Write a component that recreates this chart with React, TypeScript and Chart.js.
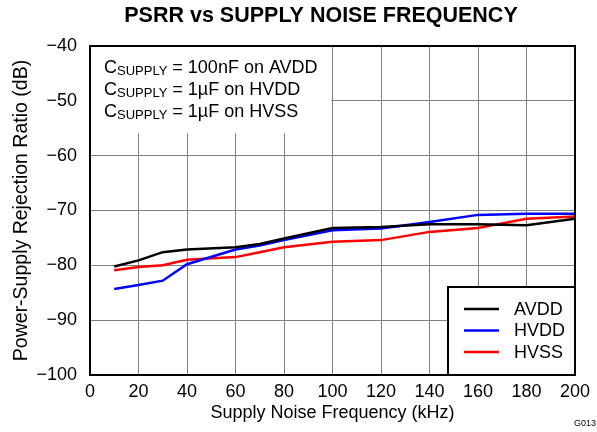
import React, { useEffect, useRef } from "react";
import { Chart, registerables } from "chart.js";

Chart.register(...registerables);

const freqKHz = [10, 20, 30, 40, 60, 70, 80, 100, 120, 140, 160, 180, 200];
const avdd = [-80.2, -79.1, -77.6, -77.1, -76.7, -76.1, -75.1, -73.2, -73.0, -72.5, -72.5, -72.7, -71.5];
const hvdd = [-84.3, -83.6, -82.8, -79.8, -77.1, -76.4, -75.4, -73.6, -73.3, -72.1, -70.8, -70.6, -70.6];
const hvss = [-80.9, -80.3, -80.0, -79.0, -78.5, -77.6, -76.7, -75.7, -75.4, -73.9, -73.2, -71.5, -71.1];
const seriesNames = ["AVDD", "HVDD", "HVSS"];
const seriesColors = ["#000000", "#0000FF", "#FF0000"];
const xTicks = [0, 20, 40, 60, 80, 100, 120, 140, 160, 180, 200];
const yTicks = [-100, -90, -80, -70, -60, -50, -40];
const titleText = "PSRR vs SUPPLY NOISE FREQUENCY";
const noteLines = [
  ["C", "SUPPLY", " = 100nF on AVDD"],
  ["C", "SUPPLY", " = 1µF on HVDD"],
  ["C", "SUPPLY", " = 1µF on HVSS"],
];

const FONT = "'Liberation Sans', Arial, Helvetica, sans-serif";

const overlayPlugin = {
  id: "overlay",
  beforeDatasetsDraw(chart: any) {
    const { ctx, chartArea } = chart;
    const xs = chart.scales.x;
    const ys = chart.scales.y;
    ctx.save();
    // title
    ctx.fillStyle = "#000000";
    ctx.font = `bold 21.5px ${FONT}`;
    ctx.textAlign = "center";
    ctx.textBaseline = "middle";
    ctx.fillText(titleText, 321, 16);
    ctx.textAlign = "left";
    // white note box over grid
    ctx.fillStyle = "#ffffff";
    const bx = chartArea.left;
    const by = chartArea.top;
    const bw = xs.getPixelForValue(100) - 1 - bx;
    const bh = ys.getPixelForValue(-55.9) - by;
    ctx.fillRect(bx, by, bw, bh);
    ctx.fillStyle = "#000000";
    noteLines.forEach((parts, i) => {
      const cy = by + 22 + i * 22;
      let x = bx + 14;
      ctx.font = `18px ${FONT}`;
      ctx.fillText(parts[0], x, cy);
      x += ctx.measureText(parts[0]).width;
      ctx.font = `13px ${FONT}`;
      ctx.fillText(parts[1], x, cy + 3);
      x += ctx.measureText(parts[1]).width;
      ctx.font = `18px ${FONT}`;
      ctx.fillText(parts[2], x, cy);
    });
    ctx.restore();
  },
  afterDatasetsDraw(chart: any) {
    const { ctx, chartArea } = chart;
    ctx.save();
    // plot border
    ctx.strokeStyle = "#000000";
    ctx.lineWidth = 2;
    ctx.strokeRect(chartArea.left, chartArea.top, chartArea.right - chartArea.left, chartArea.bottom - chartArea.top);
    // legend
    const lw = 127;
    const lh = 88;
    const lx = chartArea.right - lw;
    const ly = chartArea.bottom - lh;
    ctx.fillStyle = "#ffffff";
    ctx.fillRect(lx, ly, lw, lh);
    ctx.strokeRect(lx, ly, lw, lh);
    ctx.font = `18px ${FONT}`;
    ctx.textBaseline = "middle";
    chart.data.datasets.forEach((ds: any, i: number) => {
      const cy = ly + 22 + i * 21.5;
      ctx.strokeStyle = ds.borderColor;
      ctx.lineWidth = 2.5;
      ctx.beginPath();
      ctx.moveTo(lx + 16, cy);
      ctx.lineTo(lx + 51, cy);
      ctx.stroke();
      ctx.fillStyle = "#000000";
      ctx.fillText(ds.label, lx + 66, cy + 1);
    });
    // figure id
    ctx.font = `9px ${FONT}`;
    ctx.fillStyle = "#000000";
    ctx.textAlign = "left";
    ctx.fillText("G013", 574, 424);
    ctx.restore();
  },
};

export default function App() {
  const canvasRef = useRef<HTMLCanvasElement | null>(null);

  useEffect(() => {
    document.body.style.margin = "0";
    const canvas = canvasRef.current;
    if (!canvas) return;
    const mk = (vals: number[]) => freqKHz.map((x, i) => ({ x, y: vals[i] }));
    const datasets = [avdd, hvdd, hvss].map((vals, i) => ({
      label: seriesNames[i],
      data: mk(vals),
      borderColor: seriesColors[i],
      backgroundColor: seriesColors[i],
      borderWidth: 2.5,
      pointRadius: 0,
      tension: 0,
    }));
    const chart = new Chart(canvas, {
      type: "line",
      data: { datasets },
      options: {
        animation: false,
        responsive: false,
        maintainAspectRatio: false,
        layout: { padding: { top: 46, right: 22, bottom: 0, left: 0 } },
        plugins: {
          legend: { display: false },
          tooltip: { enabled: false },
          title: { display: false },
        },
        scales: {
          x: {
            type: "linear",
            min: 0,
            max: 200,
            afterBuildTicks: (scale: any) => {
              scale.ticks = xTicks.map((v) => ({ value: v }));
            },
            afterFit: (scale: any) => {
              scale.height = 57;
            },
            grid: { color: "#808080", lineWidth: 1, drawTicks: false },
            border: { display: false },
            ticks: {
              color: "#000000",
              font: { family: FONT, size: 18 },
              padding: 6,
              maxRotation: 0,
              autoSkip: false,
            },
            title: {
              display: true,
              text: "Supply Noise Frequency (kHz)",
              color: "#000000",
              font: { family: FONT, size: 18 },
              padding: { top: 0, bottom: 8 },
            },
          },
          y: {
            type: "linear",
            min: -100,
            max: -40,
            afterBuildTicks: (scale: any) => {
              scale.ticks = yTicks.map((v) => ({ value: v }));
            },
            afterFit: (scale: any) => {
              scale.width = 90;
            },
            grid: { color: "#808080", lineWidth: 1, drawTicks: false },
            border: { display: false },
            ticks: {
              color: "#000000",
              font: { family: FONT, size: 18 },
              padding: 13,
              callback: (v: any) => (Number(v) < 0 ? "\u2212" + Math.abs(Number(v)) : String(v)),
            },
            title: {
              display: true,
              text: "Power-Supply Rejection Ratio (dB)",
              color: "#000000",
              font: { family: FONT, size: 19.5 },
              padding: { top: 10, bottom: 0 },
            },
          },
        },
      },
      plugins: [overlayPlugin],
    });
    return () => chart.destroy();
  }, []);

  return (
    <div style={{ width: 597, height: 432 }}>
      <canvas ref={canvasRef} width={597} height={432} style={{ display: "block" }} />
    </div>
  );
}
